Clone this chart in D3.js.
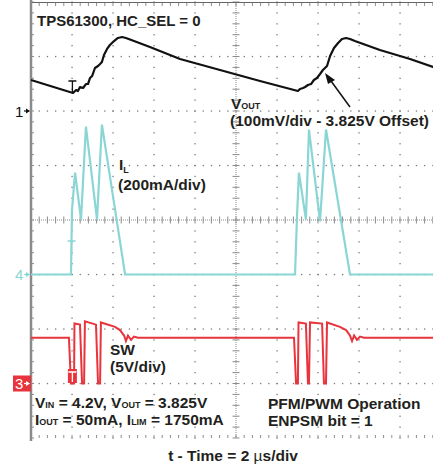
<!DOCTYPE html>
<html>
  <head>
    <meta charset="utf-8" />
    <title>TPS61300 PFM/PWM</title>
    <script src="https://d3js.org/d3.v7.min.js"></script>
    <style>
      body { margin: 0; background: #fff; }
      text { font-family: "Liberation Sans", Arial, sans-serif; fill: #231f20; }
      .lbl { font-weight: bold; font-size: 15.5px; }
    </style>
  </head>
  <body>
    <svg id="scope" width="433" height="465"></svg>
    <script>
      // time in us, Vout in mV above 3.825V offset
      var voutTime = [0, 2.05, 2.20, 2.29, 2.39, 2.54, 2.68, 2.78, 2.88, 2.98, 3.12, 3.27, 3.37, 3.46, 3.56, 3.71, 3.85, 4.05, 4.24, 4.44, 4.63, 4.83, 5.80, 7.27, 9.22, 11.17, 13.02, 13.12, 13.27, 13.37, 13.51, 13.66, 13.80, 13.95, 14.10, 14.24, 14.34, 14.44, 14.59, 14.78, 14.98, 15.17, 15.37, 15.56, 15.80, 17.02, 18.49, 19.61, 20];
      var voutMv = [56.9, 33.0, 38.5, 36.7, 44.0, 42.2, 49.5, 49.5, 60.6, 64.2, 78.9, 82.6, 86.2, 89.9, 102.8, 113.8, 121.1, 128.4, 134.0, 135.8, 134.0, 131.2, 117.4, 95.4, 75.2, 55.1, 36.7, 40.4, 42.2, 44.0, 47.7, 49.5, 56.9, 60.6, 67.9, 75.2, 78.9, 82.6, 100.9, 115.6, 124.8, 132.1, 134.0, 132.1, 128.4, 111.9, 95.4, 80.7, 77.5];

      // inductor current, mA
      var ilTime = [0, 1.95, 2.00, 2.15, 2.44, 2.68, 3.22, 3.46, 4.59, 12.88, 12.98, 13.07, 13.41, 13.56, 14.10, 14.39, 15.56, 20];
      var ilMa = [0, 0, 238, 374, 202, 543, 202, 550, 0, 0, 220, 374, 202, 532, 195, 532, 0, 0];

      // switch node, V
      var swTime = [0, 1.85, 1.95, 2.10, 2.12, 2.39, 2.49, 2.59, 2.63, 3.17, 3.27, 3.37, 3.41, 4.10, 4.34, 4.54, 4.63, 4.73, 4.88, 5.02, 5.22, 12.83, 12.93, 13.02, 13.05, 13.41, 13.51, 13.56, 13.61, 14.20, 14.29, 14.39, 14.44, 15.07, 15.37, 15.56, 15.66, 15.76, 15.90, 16.05, 16.24, 20];
      var swV = [4.2, 4.2, 0, 0, 5.5, 5.4, 0, 0, 5.7, 5.4, 0, 0, 5.6, 5.2, 4.9, 4.4, 3.9, 4.4, 4.0, 4.3, 4.2, 4.2, 0, 0, 5.6, 5.5, 0, 0, 5.6, 5.5, 0, 0, 5.6, 5.2, 4.9, 4.4, 3.9, 4.4, 4.0, 4.3, 4.2, 4.2];

      var svg = d3.select("#scope");
      var x = d3.scaleLinear().domain([0, 20]).range([31, 441]);
      var y = d3.scaleLinear().domain([-4, 4]).range([438, 2]);

      var grid = svg.append("g").attr("fill", "#7a7a7a");
      // dotted grid
      d3.range(1, 10).forEach(function (k) {
        if (k == 5) return;
        d3.range(0, 41).forEach(function (j) {
          grid.append("rect").attr("x", x(k * 2) - 0.6).attr("y", y(-4 + j * 0.2) - 0.6).attr("width", 1.3).attr("height", 1.3);
        });
      });
      d3.range(1, 8).forEach(function (k) {
        if (k == 4) return;
        d3.range(0, 51).forEach(function (j) {
          grid.append("rect").attr("x", x(j * 0.4) - 0.6).attr("y", y(-4 + k) - 0.6).attr("width", 1.3).attr("height", 1.3);
        });
      });
      // center cross with ticks
      var cross = svg.append("g").attr("stroke", "#8c8c8c").attr("stroke-width", 1);
      cross.append("line").attr("x1", x(0)).attr("x2", x(20)).attr("y1", y(0)).attr("y2", y(0)).attr("stroke-dasharray", "1,1");
      cross.append("line").attr("x1", x(10)).attr("x2", x(10)).attr("y1", y(4)).attr("y2", y(-4)).attr("stroke-dasharray", "1,1");
      d3.range(0, 51).forEach(function (j) {
        cross.append("line").attr("x1", x(j * 0.4)).attr("x2", x(j * 0.4)).attr("y1", y(0) - 3.5).attr("y2", y(0) + 3.5);
        cross.append("line").attr("x1", x(j * 0.4)).attr("x2", x(j * 0.4)).attr("y1", y(4)).attr("y2", y(4) + 4);
        cross.append("line").attr("x1", x(j * 0.4)).attr("x2", x(j * 0.4)).attr("y1", y(-4)).attr("y2", y(-4) - 3);
      });
      d3.range(0, 41).forEach(function (j) {
        cross.append("line").attr("x1", x(10) - 3.5).attr("x2", x(10) + 3.5).attr("y1", y(-4 + j * 0.2)).attr("y2", y(-4 + j * 0.2));
        cross.append("line").attr("x1", x(0)).attr("x2", x(0) + 3).attr("y1", y(-4 + j * 0.2)).attr("y2", y(-4 + j * 0.2));
      });
      svg.append("line").attr("x1", x(0)).attr("x2", x(20)).attr("y1", y(4) + 0.5).attr("y2", y(4) + 0.5)
        .attr("stroke", "#666").attr("stroke-width", 1);
      svg.append("line").attr("x1", x(0)).attr("x2", x(0)).attr("y1", 0).attr("y2", 441)
        .attr("stroke", "#8a8a8a").attr("stroke-width", 2.5);

      // traces
      var line = d3.line().curve(d3.curveLinear);
      function ptsFor(ts, vs, f) { return ts.map(function (t, i) { return [x(t), f(vs[i])]; }); }

      svg.append("path").attr("d", line(ptsFor(ilTime, ilMa, function (v) { return y(-1 + v / 200); })))
        .attr("fill", "none").attr("stroke", "#8ad6d4").attr("stroke-width", 2.2);
      svg.append("path").attr("d", line(ptsFor(swTime, swV, function (v) { return y(-3 + v / 5); })))
        .attr("fill", "none").attr("stroke", "#e8343c").attr("stroke-width", 2);
      svg.append("path").attr("d", line(ptsFor(voutTime, voutMv, function (v) { return y(2 + v / 100); })))
        .attr("fill", "none").attr("stroke", "#111").attr("stroke-width", 2.2).attr("stroke-linejoin", "round");

      // trigger markers
      function tMark(cx, top, bot, col) {
        svg.append("path").attr("d", "M" + (cx - 4) + "," + top + "H" + (cx + 4) + "M" + cx + "," + top + "V" + bot)
          .attr("stroke", col).attr("stroke-width", 1.3).attr("fill", "none");
      }
      tMark(x(2.02), 81, 92, "#111");
      tMark(x(1.98), 241, 256, "#8ad6d4");
      svg.append("rect").attr("x", x(1.8)).attr("y", 369).attr("width", 9).attr("height", 14).attr("fill", "#e8343c");
      tMark(x(1.8) + 4.5, 372, 382, "#fff");

      // channel markers
      function chMark(label, yy, col, boxed) {
        if (boxed) svg.append("rect").attr("x", 13).attr("y", yy - 8).attr("width", 18).attr("height", 16).attr("fill", col);
        var c = boxed ? "#fff" : col;
        svg.append("text").attr("x", 15).attr("y", yy + 5.5).style("font-size", "15px").style("fill", c).text(label);
        svg.append("line").attr("x1", 24).attr("x2", 29).attr("y1", yy).attr("y2", yy).attr("stroke", c).attr("stroke-width", 1.2);
        svg.append("path").attr("d", "M26," + (yy - 2.5) + "L30," + yy + "L26," + (yy + 2.5) + "Z").attr("fill", c);
      }
      chMark("1", y(2), "#111", false);
      chMark("4", y(-1), "#8ad6d4", false);
      chMark("3", y(-3), "#e8343c", true);

      // labels
      svg.append("text").attr("class", "lbl").attr("x", 37).attr("y", 26).style("font-size", "15px").text("TPS61300, HC_SEL = 0");

      var vo = svg.append("text").attr("class", "lbl").attr("x", 231).attr("y", 109);
      vo.append("tspan").text("V");
      vo.append("tspan").style("font-size", "9px").text("OUT");
      svg.append("text").attr("class", "lbl").attr("x", 230).attr("y", 126).text("(100mV/div - 3.825V Offset)");
      svg.append("line").attr("x1", 350).attr("y1", 107).attr("x2", 331).attr("y2", 81).attr("stroke", "#111").attr("stroke-width", 1.5);
      svg.append("path").attr("d", "M325,73L335,80L328,84Z").attr("fill", "#111");

      var il = svg.append("text").attr("class", "lbl").attr("x", 119).attr("y", 170);
      il.append("tspan").text("I");
      il.append("tspan").style("font-size", "9px").attr("dy", 3).text("L");
      svg.append("text").attr("class", "lbl").attr("x", 118).attr("y", 190).text("(200mA/div)");

      svg.append("text").attr("class", "lbl").attr("x", 110).attr("y", 355).text("SW");
      svg.append("text").attr("class", "lbl").attr("x", 110).attr("y", 372).text("(5V/div)");

      var l1 = svg.append("text").attr("class", "lbl").attr("x", 35).attr("y", 408);
      l1.append("tspan").text("V");
      l1.append("tspan").style("font-size", "9px").text("IN");
      l1.append("tspan").text(" = 4.2V, V");
      l1.append("tspan").style("font-size", "9px").text("OUT");
      l1.append("tspan").text(" = 3.825V");
      var l2 = svg.append("text").attr("class", "lbl").attr("x", 35).attr("y", 425);
      l2.append("tspan").text("I");
      l2.append("tspan").style("font-size", "9px").text("OUT");
      l2.append("tspan").text(" = 50mA, I");
      l2.append("tspan").style("font-size", "9px").text("LIM");
      l2.append("tspan").text(" = 1750mA");

      svg.append("text").attr("class", "lbl").attr("x", 268).attr("y", 409).text("PFM/PWM Operation");
      svg.append("text").attr("class", "lbl").attr("x", 268).attr("y", 426).text("ENPSM bit = 1");

      var tl = svg.append("text").attr("class", "lbl").attr("x", 233).attr("y", 461).attr("text-anchor", "middle");
      tl.append("tspan").text("t - Time = 2 ");
      tl.append("tspan").style("font-weight", "normal").text("\u00b5");
      tl.append("tspan").text("s/div");
    </script>
  </body>
</html>
